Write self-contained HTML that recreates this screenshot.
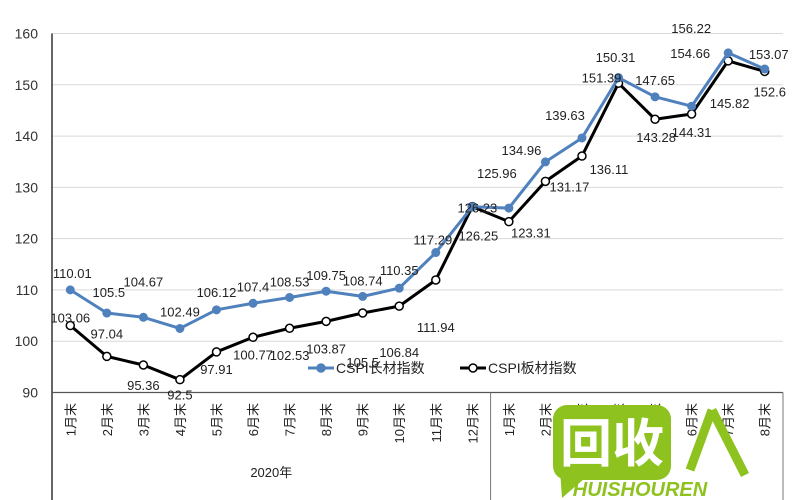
<!DOCTYPE html>
<html><head><meta charset="utf-8">
<style>
html,body{margin:0;padding:0;background:#fff;}
svg{display:block;font-family:"Liberation Sans","Noto Sans CJK SC",sans-serif;}
</style></head>
<body>
<svg id="chart" width="800" height="500" viewBox="0 0 800 500"></svg>
<script>
const categories = ["1月末","2月末","3月末","4月末","5月末","6月末","7月末","8月末","9月末","10月末","11月末","12月末","1月末","2月末","3月末","4月末","5月末","6月末","7月末","8月末"];
const years = ["2020年","2021年"];
const longSteel = [110.01,105.5,104.67,102.49,106.12,107.4,108.53,109.75,108.74,110.35,117.29,126.23,125.96,134.96,139.63,151.39,147.65,145.82,156.22,153.07];
const flatSteel = [103.06,97.04,95.36,92.5,97.91,100.77,102.53,103.87,105.5,106.84,111.94,126.25,123.31,131.17,136.11,150.31,143.28,144.31,154.66,152.6];
const yTicks = [90,100,110,120,130,140,150,160];
// label offsets (presentation only)
const blueOff = [[2,-17],[2,-21],[0,-36],[0,-17],[0,-18],[0,-17],[0,-16],[0,-16],[0,-16],[0,-18],[-3,-13],[5,1],[-12,-35],[-24,-12],[-17,-23],[-17,0],[0,-17],[38,-3],[-37,-25],[4,-15]];
const blackOff = [[0,-8],[0,-23],[0,20],[0,15],[0,17],[0,17],[0,27],[0,27],[0,49],[0,46],[0,47],[6,29],[22,11],[24,5],[27,13],[-3,-26],[1,18],[0,18],[-38,-8],[5,20]];

const svg = document.getElementById('chart');
const NS = 'http://www.w3.org/2000/svg';
const L = 52, R = 783, T = 33.5, B = 392.5, YMIN = 90, YMAX = 160;
const bw = (R - L) / categories.length;
const xs = i => L + bw * (i + 0.5);
const ys = v => B - (v - YMIN) / (YMAX - YMIN) * (B - T);
function mk(tag, attrs, parent) {
  const e = document.createElementNS(NS, tag);
  for (const k in attrs) e.setAttribute(k, attrs[k]);
  (parent || svg).appendChild(e);
  return e;
}
// grid + y ticks
yTicks.forEach(t => {
  if (t > YMIN) {
    const g = mk('line', {x1: L, x2: R, y1: ys(t), y2: ys(t), stroke: '#d9d9d9', 'stroke-width': 1});
    
    
  }
  const tx = mk('text', {x: 38, y: ys(t) + 5, 'text-anchor': 'end', 'font-size': 14, fill: '#333'});
  tx.textContent = t;
  
  
});
// axes
const ya = mk('line', {x1: L, x2: L, y1: T, y2: 500, stroke: '#000', 'stroke-width': 1.2});


const xa = mk('line', {x1: L, x2: R, y1: B, y2: B, stroke: '#555', 'stroke-width': 1.2});


[L + bw * 12, R].forEach(x => {
  const s = mk('line', {x1: x, x2: x, y1: B, y2: 500, stroke: '#777', 'stroke-width': 1});
  
  
});
// category labels
categories.forEach((c, i) => {
  const t = mk('text', {x: 0, y: 0, 'text-anchor': 'end', 'font-size': 13, fill: '#222',
    transform: `translate(${xs(i) + 5},403) rotate(-90)`});
  t.textContent = c;
  
  
});
years.forEach((y, i) => {
  const cx = L + bw * (i * 12 + (i === 0 ? 6 : 4));
  const t = mk('text', {x: cx, y: 477, 'text-anchor': 'middle', 'font-size': 13, fill: '#222'});
  t.textContent = y;
  
  
});
// series
function series(vals, color, filled, off, name) {
  const pts = vals.map((v, i) => xs(i) + ',' + ys(v)).join(' ');
  const pl = mk('polyline', {points: pts, fill: 'none', stroke: color, 'stroke-width': 3, 'stroke-linejoin': 'round'});
  
  
  vals.forEach((v, i) => {
    const c = mk('circle', {cx: xs(i), cy: ys(v), r: filled ? 4 : 4, fill: filled ? color : '#fff', stroke: color, 'stroke-width': filled ? 1 : 1.5});
    
    
  });
  vals.forEach((v, i) => {
    const t = mk('text', {x: xs(i) + off[i][0], y: ys(v) + off[i][1] + 5, 'text-anchor': 'middle', 'font-size': 13, fill: '#222'});
    t.textContent = v;
    
    
  });
}
series(flatSteel, '#000', false, blackOff, 'flat-steel');
series(longSteel, '#4f81bd', true, blueOff, 'long-steel');
// legend
const lg = mk('g', {});


[[308, '#4f81bd', true, 'CSPI长材指数'], [460, '#000', false, 'CSPI板材指数']].forEach(([x, col, f, txt]) => {
  const g = mk('g', {}, lg);
  
  
  mk('line', {x1: x, x2: x + 26, y1: 368, y2: 368, stroke: col, 'stroke-width': 3}, g);
  mk('circle', {cx: x + 13, cy: 368, r: 4, fill: f ? col : '#fff', stroke: col, 'stroke-width': 1.5}, g);
  const t = mk('text', {x: x + 28, y: 373, 'font-size': 14, fill: '#222'}, g);
  t.textContent = txt;
});
</script>
<svg width="800" height="500" style="position:absolute;left:0;top:0">
  <rect x="553" y="405" width="118" height="75" rx="14" fill="#8dc21f"/>
  <polygon points="560,470 562,498 585,478" fill="#8dc21f"/>
  <text x="612" y="462" text-anchor="middle" font-size="52" font-weight="bold" fill="#fff" font-family="'Noto Sans CJK SC',sans-serif">回收</text>
  <path d="M712 410 L690 470 M712 410 L745 475" stroke="#8dc21f" stroke-width="9" fill="none"/>
  <text x="640" y="496" text-anchor="middle" font-size="20" font-weight="bold" font-style="italic" fill="#8dc21f" font-family="'Liberation Sans',sans-serif">HUISHOUREN</text>
</svg>
</body></html>
